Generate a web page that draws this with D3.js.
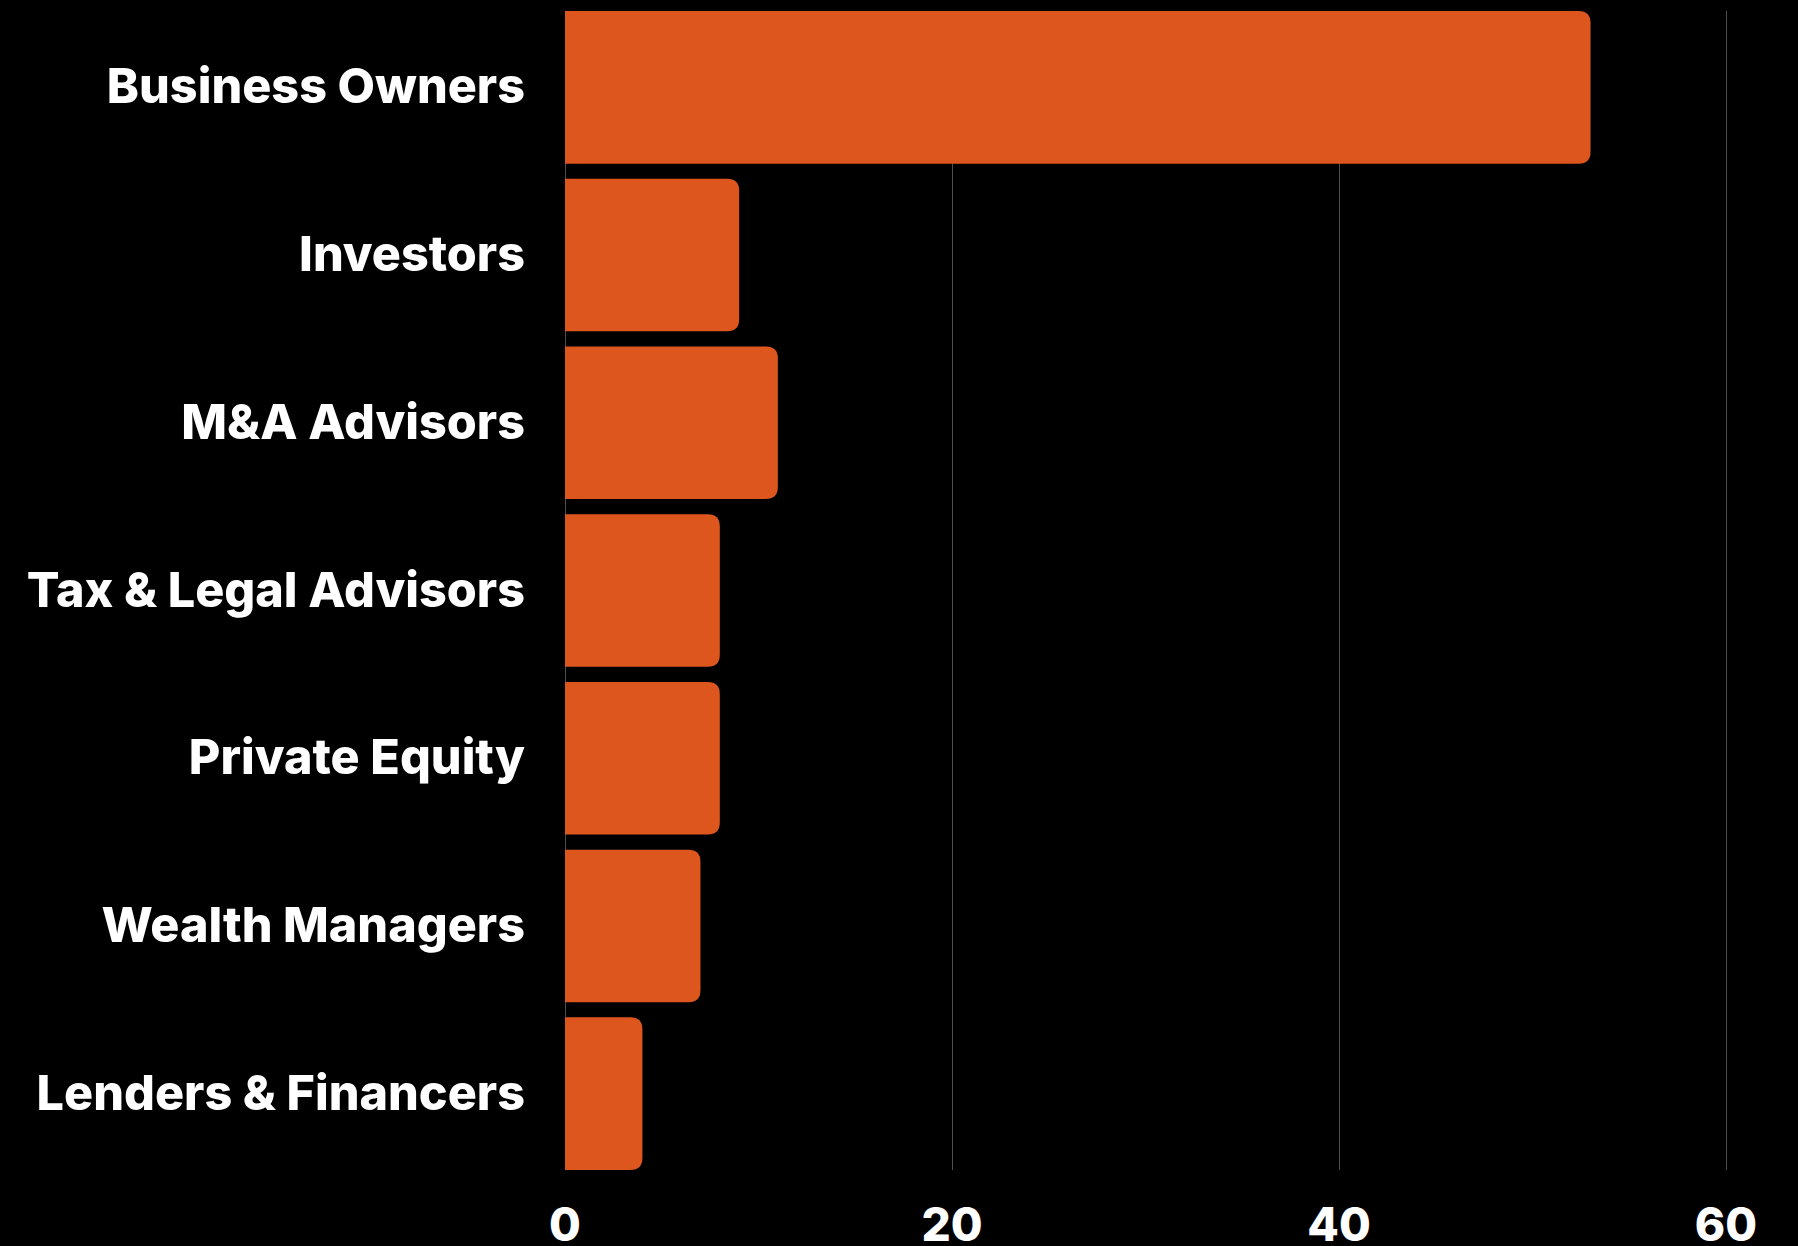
<!DOCTYPE html>
<html>
<head>
<meta charset="utf-8">
<script src="https://cdn.jsdelivr.net/npm/d3@7"></script>
<style>
    body { margin: 0; background: #000; }
    .bar-label { font-family: Inter, sans-serif; font-weight: 800; fill: #fff; }
    .tick-label { font-family: Inter, sans-serif; font-weight: 800; fill: #fff; }
</style>
</head>
<body>
<div id="chart-area"></div>
<script>
// share of respondents by group
var categories = ["Business Owners", "Investors", "M&A Advisors", "Tax & Legal Advisors",
    "Private Equity", "Wealth Managers", "Lenders & Financers"];
var values = [53, 9, 11, 8, 8, 7, 4];
var tickValues = [0, 20, 40, 60];

BarChart = function(_parentElement){
    this.parentElement = _parentElement;
    this.initVis();
}

BarChart.prototype.initVis = function(){
    var vis = this;

    vis.margin = {top: 11, right: 72, bottom: 76, left: 565};
    vis.width = 1798 - vis.margin.left - vis.margin.right;
    vis.height = 1246 - vis.margin.top - vis.margin.bottom;

    vis.svg = d3.select("#" + vis.parentElement).append("svg")
        .attr("width", 1798)
        .attr("height", 1246)
        .style("display", "block")
        .style("background", "#000");

    vis.g = vis.svg.append("g")
        .attr("transform", "translate(" + vis.margin.left + "," + vis.margin.top + ")");

    // scales
    vis.x = d3.scaleLinear()
        .domain([0, 60])
        .range([0, vis.width]);

    vis.y = d3.scaleBand()
        .domain(categories)
        .range([0, vis.height])
        .paddingInner(0.09)
        .paddingOuter(0);

    // vertical grid lines (0 line acts as axis)
    vis.g.selectAll(".grid")
        .data(tickValues)
        .enter().append("line")
        .attr("class", "grid")
        .attr("x1", function(d){ return Math.round(vis.x(d)) + 0.5; })
        .attr("x2", function(d){ return Math.round(vis.x(d)) + 0.5; })
        .attr("y1", 0)
        .attr("y2", vis.height)
        .attr("stroke", "#4d4d4d")
        .attr("stroke-width", 1);

    // bars, rounded on the right only
    var r = 12;
    vis.g.selectAll(".bar")
        .data(values)
        .enter().append("path")
        .attr("class", "bar")
        .attr("fill", "#dd561e")
        .attr("d", function(d, i){
            var x0 = vis.x(0), x1 = vis.x(d);
            var y0 = vis.y(categories[i]), h = vis.y.bandwidth();
            return "M" + x0 + "," + y0 +
                "H" + (x1 - r) +
                "Q" + x1 + "," + y0 + " " + x1 + "," + (y0 + r) +
                "V" + (y0 + h - r) +
                "Q" + x1 + "," + (y0 + h) + " " + (x1 - r) + "," + (y0 + h) +
                "H" + x0 + "Z";
        });

    // category labels
    vis.g.selectAll(".bar-label")
        .data(categories)
        .enter().append("text")
        .attr("class", "bar-label")
        .attr("x", -40)
        .attr("y", function(d){ return vis.y(d) + vis.y.bandwidth() / 2; })
        .attr("dy", "0.33em")
        .attr("text-anchor", "end")
        .style("font-size", "48.5px")
        .text(function(d){ return d; });

    // x tick labels
    vis.g.selectAll(".tick-label")
        .data(tickValues)
        .enter().append("text")
        .attr("class", "tick-label")
        .attr("x", function(d){ return vis.x(d); })
        .attr("y", vis.height + 71)
        .attr("text-anchor", "middle")
        .style("font-size", "46px")
        .text(function(d){ return d; });
};

new BarChart("chart-area");
</script>
</body>
</html>
